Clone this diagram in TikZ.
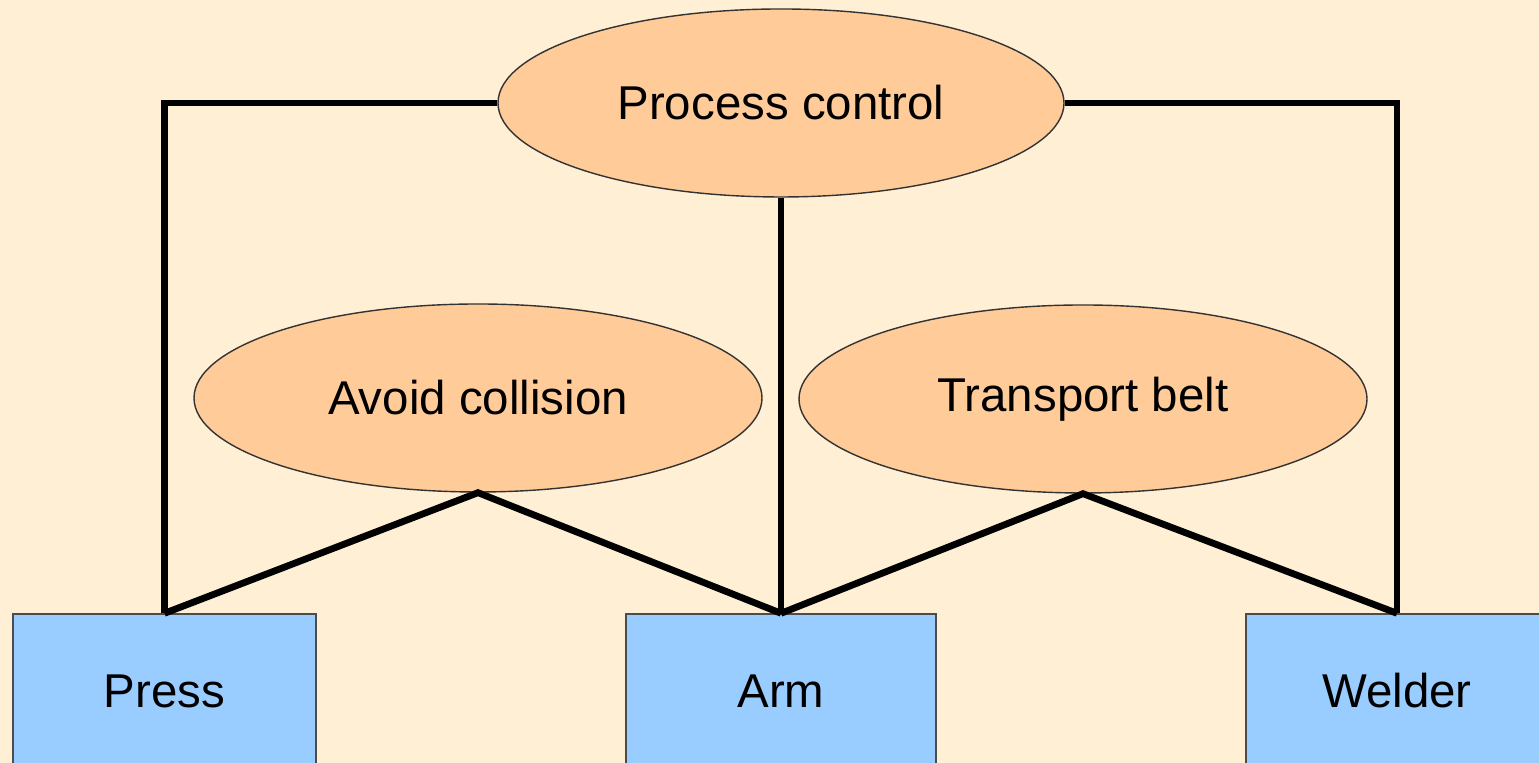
\documentclass[tikz,border=0pt]{standalone}
\usepackage{fontspec}
\setmainfont{Liberation Sans}
\usetikzlibrary{shapes.geometric}

\definecolor{paper}{HTML}{FFEFD5}
\definecolor{goalfill}{HTML}{FFCC99}
\definecolor{unitfill}{HTML}{99CCFF}

\begin{document}
\begin{tikzpicture}[
            goal/.style={ellipse,draw=black!80,thin,fill=goalfill,
                minimum width=#1,minimum height=1.88cm,inner sep=0pt},
            goal/.default=5.66cm,
            unit/.style={rectangle,draw=black!70,thin,fill=unitfill,
                minimum width=#1,minimum height=1.54cm,inner sep=0pt},
            unit/.default=3.03cm,
            link/.style={line width=0.068cm},
            font=\fontsize{13.5}{16}\selectfont
        ]
        % page background
        \fill[paper] (0, 0) rectangle (15.39, 7.63);
        \useasboundingbox (0, 0) rectangle (15.39, 7.63);

        % controllers
        \node[goal]         (ctrl)  at (7.81, 6.60) {Process control};
        \node[goal=5.68cm]  (avoid) at (4.78, 3.65) {Avoid collision};
        \node[goal=5.68cm]  (belt)  at (10.83, 3.64) {Transport belt};

        % machines
        \node[unit]         (press)  at (1.645, 0.72) {Press};
        \node[unit=3.10cm]  (arm)    at (7.81, 0.72) {Arm};
        \node[unit=3.02cm]  (welder) at (13.97, 0.72) {Welder};

        % links
        \draw[link] (ctrl.west) -| (press.north);
        \draw[link] (ctrl.east) -| (welder.north);
        \draw[link] (ctrl.south) -- (arm.north);
        \draw[link] (press.north) -- (avoid.south) -- (arm.north);
        \draw[link] (arm.north) -- (belt.south) -- (welder.north);
    \end{tikzpicture}
\end{document}
